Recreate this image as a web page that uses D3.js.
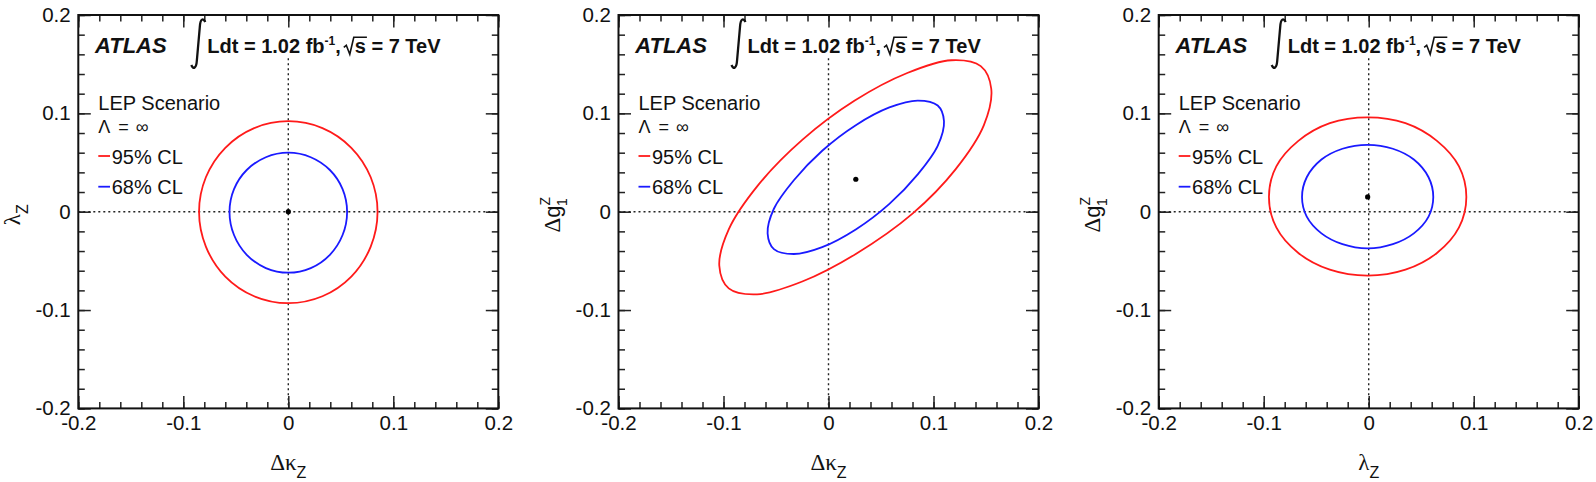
<!DOCTYPE html>
<html lang="en">
<head>
<meta charset="UTF-8">
<title>ATLAS LEP scenario limits</title>
<script src="https://cdn.jsdelivr.net/npm/d3@7/dist/d3.min.js"></script>
<style>
    body {
        margin: 0;
        padding: 0;
        background: #fff;
    }
    text {
        font-family: "Liberation Sans", Arial, Helvetica, sans-serif;
        fill: #111;
    }
</style>
</head>
<body>
<svg width="1596" height="482" id="mainsvg"></svg>
<script>
    // axis ticks (same for every panel)
    const tickValues = [-0.2, -0.1, 0, 0.1, 0.2];
    const tickLabels = ["-0.2", "-0.1", "0", "0.1", "0.2"];

    // panel 1: delta kappa_Z (x) vs lambda_Z (y), contour points
    const dkLamRed = [[0.085, 0], [0.0785, 0.035], [0.060, 0.065], [0.0325, 0.085], [0, 0.092], [-0.0325, 0.085],
        [-0.060, 0.065], [-0.0785, 0.035], [-0.085, 0], [-0.0785, -0.0355], [-0.060, -0.066], [-0.0325, -0.086],
        [0, -0.093], [0.0325, -0.086], [0.060, -0.066], [0.0785, -0.0355]];
    const dkLamBlue = [[0.056, 0], [0.0517, 0.023], [0.0396, 0.0424], [0.0214, 0.0554], [0, 0.060], [-0.0214, 0.0554],
        [-0.0396, 0.0424], [-0.0517, 0.023], [-0.056, 0], [-0.0517, -0.0237], [-0.0396, -0.0438], [-0.0214, -0.0573],
        [0, -0.062], [0.0214, -0.0573], [0.0396, -0.0438], [0.0517, -0.0237]];
    const dkLamBest = [0, 0];

    // panel 2: delta kappa_Z (x) vs delta g1_Z (y)
    const dkDgRed = [[0.155, 0.125], [0.145, 0.148], [0.117, 0.154], [0.075, 0.141], [0.025, 0.113], [-0.025, 0.073],
        [-0.067, 0.027], [-0.095, -0.018], [-0.104, -0.055], [-0.095, -0.078], [-0.068, -0.084], [-0.025, -0.071],
        [0.026, -0.043], [0.080, -0.002], [0.121, 0.043], [0.148, 0.088]];
    const dkDgBlue = [[0.110, 0.092], [0.104, 0.108], [0.085, 0.113], [0.058, 0.106], [0.026, 0.088], [-0.006, 0.062],
        [-0.033, 0.032], [-0.052, 0.003], [-0.058, -0.022], [-0.052, -0.038], [-0.033, -0.043], [-0.006, -0.036],
        [0.026, -0.018], [0.058, 0.008], [0.085, 0.038], [0.104, 0.067]];
    const dkDgBest = [0.026, 0.033];

    // panel 3: lambda_Z (x) vs delta g1_Z (y)
    const lamDgRed = [[0.093, 0.015], [0.086, 0.046], [0.065, 0.072], [0.035, 0.090], [-0.001, 0.096], [-0.037, 0.090],
        [-0.067, 0.072], [-0.088, 0.046], [-0.095, 0.015], [-0.088, -0.016], [-0.067, -0.042], [-0.037, -0.059],
        [-0.001, -0.065], [0.035, -0.059], [0.065, -0.042], [0.086, -0.016]];
    const lamDgBlue = [[0.0615, 0.015], [0.057, 0.035], [0.043, 0.053], [0.023, 0.064], [-0.001, 0.068], [-0.025, 0.064],
        [-0.045, 0.053], [-0.059, 0.035], [-0.0635, 0.015], [-0.059, -0.005], [-0.045, -0.022], [-0.025, -0.033],
        [-0.001, -0.0373], [0.023, -0.033], [0.043, -0.022], [0.057, -0.005]];
    const lamDgBest = [-0.001, 0.015];

    const legendLabels = ["95% CL", "68% CL"];
    const legendColors = ["#ff1a1a", "#1a1aff"];

    const dkTitle = [["Δκ", "sym"], ["Z", "sub"]];
    const lamTitle = [["λ", "sym"], ["Z", "sub"]];
    const dgTitle = [["Δ", "sym"], ["g", "txt"], ["Z", "sup"], ["1", "sub1"]];

    const panels = [
        {red: dkLamRed, blue: dkLamBlue, best: dkLamBest, xt: dkTitle, yt: lamTitle},
        {red: dkDgRed, blue: dkDgBlue, best: dkDgBest, xt: dkTitle, yt: dgTitle},
        {red: lamDgRed, blue: lamDgBlue, best: lamDgBest, xt: lamTitle, yt: dgTitle}
    ];

    const svg = d3.select("#mainsvg");
    const W = 420, H = 393.4;
    const left0 = 78.3, top0 = 15, step = 540.2;

    const x = d3.scaleLinear().domain([-0.2, 0.2]).range([0, W]);
    const y = d3.scaleLinear().domain([-0.2, 0.2]).range([H, 0]);
    const minor = d3.range(-0.2, 0.2001, 0.02);

    const contour = d3.line()
        .x(d => x(d[0]))
        .y(d => y(d[1]))
        .curve(d3.curveCatmullRomClosed.alpha(0.5));

    function addTitle(t, parts) {
        parts.forEach(p => {
            let ts = t.append("tspan").text(p[0]);
            if (p[1] === "sym") ts.attr("font-family", "'Liberation Serif', 'Times New Roman', serif").attr("font-size", 23);
            if (p[1] === "txt") ts.attr("font-size", 22);
            if (p[1] === "sub") ts.attr("font-size", 16).attr("dy", 8);
            if (p[1] === "sup") ts.attr("font-size", 14).attr("dy", -10);
            if (p[1] === "sub1") ts.attr("font-size", 14).attr("dx", -9).attr("dy", 17);
        });
    }

    function atlasLabel(g) {
        let by = 38.3;
        g.append("text")
            .attr("x", 16.7).attr("y", by)
            .attr("font-weight", "bold").attr("font-style", "italic").attr("font-size", 22)
            .text("ATLAS");
        // integral sign
        let ix = 113;
        g.append("path")
            .attr("d", `M${ix + 14},${7} C${ix + 12},${3} ${ix + 9},${3} ${ix + 8.5},${12} L${ix + 5.5},${46}
                        C${ix + 5},${53} ${ix + 2},${55} ${ix},${50}`)
            .attr("fill", "none").attr("stroke", "#111").attr("stroke-width", 2.3);

        let cx = 129;
        const fs = 20;
        function piece(str, size, dy, gap) {
            let t = g.append("text")
                .attr("x", cx).attr("y", by + dy)
                .attr("font-weight", "bold").attr("font-size", size)
                .text(str);
            cx += t.node().getComputedTextLength() + (gap || 0);
            return t;
        }
        piece("Ldt = 1.02 fb", fs, 0);
        piece("-1", 12, -8);
        piece(",", fs, 0, 3);
        let rx = cx;
        let s = g.append("text")
            .attr("x", rx + 11).attr("y", by)
            .attr("font-weight", "bold").attr("font-size", fs)
            .text("s");
        let sw = s.node().getComputedTextLength();
        g.append("path")
            .attr("d", `M${rx},${by - 6} L${rx + 2.5},${by - 8} L${rx + 6},${by + 1} L${rx + 10},${by - 16} L${rx + 12 + sw},${by - 16}`)
            .attr("fill", "none").attr("stroke", "#111").attr("stroke-width", 1.6);
        cx = rx + 11 + sw + 5.5;
        piece("= 7 TeV", fs, 0);
    }

    panels.forEach((p, i) => {
        let g = svg.append("g").attr("transform", `translate(${left0 + i * step},${top0})`);

        // axes: major + minor ticks on all four sides
        g.append("g").attr("transform", `translate(0,${H})`)
            .call(d3.axisBottom(x).tickValues(tickValues).tickFormat((d, k) => tickLabels[k])
                .tickSizeInner(-12.5).tickSizeOuter(0).tickPadding(7));
        g.append("g").attr("transform", `translate(0,${H})`)
            .call(d3.axisBottom(x).tickValues(minor).tickFormat("").tickSizeInner(-6.5).tickSizeOuter(0));
        g.append("g")
            .call(d3.axisLeft(y).tickValues(tickValues).tickFormat((d, k) => tickLabels[k])
                .tickSizeInner(-12.5).tickSizeOuter(0).tickPadding(7.6));
        g.append("g")
            .call(d3.axisLeft(y).tickValues(minor).tickFormat("").tickSizeInner(-6.5).tickSizeOuter(0));
        g.append("g")
            .call(d3.axisTop(x).tickValues(tickValues).tickFormat("").tickSizeInner(-12.5).tickSizeOuter(0));
        g.append("g")
            .call(d3.axisTop(x).tickValues(minor).tickFormat("").tickSizeInner(-6.5).tickSizeOuter(0));
        g.append("g").attr("transform", `translate(${W},0)`)
            .call(d3.axisRight(y).tickValues(tickValues).tickFormat("").tickSizeInner(-12.5).tickSizeOuter(0));
        g.append("g").attr("transform", `translate(${W},0)`)
            .call(d3.axisRight(y).tickValues(minor).tickFormat("").tickSizeInner(-6.5).tickSizeOuter(0));
        g.selectAll(".domain").remove();
        g.selectAll(".tick line").attr("stroke", "#222").attr("stroke-width", 1.5);
        g.selectAll(".tick text")
            .attr("font-family", "'Liberation Sans', Arial, sans-serif")
            .attr("font-size", 20.5).attr("fill", "#111");

        // dotted zero lines
        g.append("line")
            .attr("x1", x(0)).attr("x2", x(0)).attr("y1", y(0.156)).attr("y2", y(-0.2))
            .attr("stroke", "#222").attr("stroke-width", 1.4).attr("stroke-dasharray", "2,3");
        g.append("line")
            .attr("x1", x(-0.2)).attr("x2", x(0.2)).attr("y1", y(0)).attr("y2", y(0))
            .attr("stroke", "#222").attr("stroke-width", 1.4).attr("stroke-dasharray", "2,3");

        // contours
        g.append("path").datum(p.red).attr("d", contour)
            .attr("fill", "none").attr("stroke", legendColors[0]).attr("stroke-width", 1.8);
        g.append("path").datum(p.blue).attr("d", contour)
            .attr("fill", "none").attr("stroke", legendColors[1]).attr("stroke-width", 1.8);
        g.append("circle")
            .attr("cx", x(p.best[0])).attr("cy", y(p.best[1])).attr("r", 2.6)
            .attr("fill", "#000");

        // frame
        g.append("rect").attr("width", W).attr("height", H)
            .attr("fill", "none").attr("stroke", "#111").attr("stroke-width", 2);

        atlasLabel(g);

        // legend block
        g.append("text").attr("x", 20).attr("y", 95).attr("font-size", 20).text("LEP Scenario");
        let lam = g.append("text").attr("x", 20).attr("y", 118.3)
            .attr("font-family", "'Liberation Serif', 'Times New Roman', serif").attr("font-size", 18);
        lam.append("tspan").text("Λ");
        lam.append("tspan").attr("dx", 8).text("=");
        lam.append("tspan").attr("dx", 7).text("∞");
        legendLabels.forEach((lab, k) => {
            let ly = 141 + k * 30.7;
            g.append("line").attr("x1", 20).attr("x2", 31.7).attr("y1", ly).attr("y2", ly)
                .attr("stroke", legendColors[k]).attr("stroke-width", 1.8);
            g.append("text").attr("x", 33.4).attr("y", ly + 7.5).attr("font-size", 20).text(lab);
        });

        // axis titles
        let xt = g.append("text").attr("x", W / 2).attr("y", 455).attr("text-anchor", "middle");
        addTitle(xt, p.xt);
        let yt = g.append("text").attr("text-anchor", "middle")
            .attr("transform", `translate(-58.5,${H / 2 + 3}) rotate(-90)`);
        addTitle(yt, p.yt);
    });
</script>
</body>
</html>
